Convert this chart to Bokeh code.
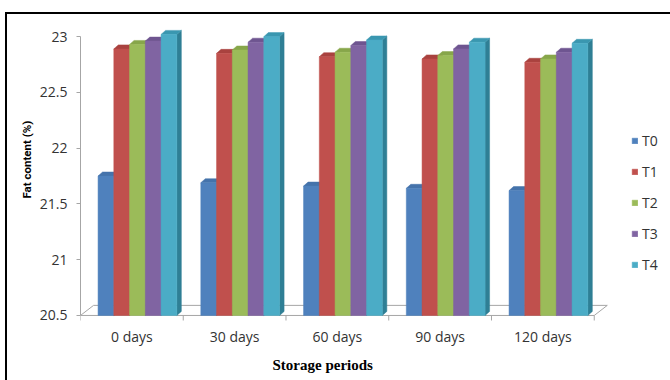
from bokeh.plotting import figure
from bokeh.models import (Range1d, FixedTicker, CustomJSTickFormatter, Legend, LegendItem,
                          ColumnDataSource, Title)
from bokeh.embed import file_html
from bokeh.resources import INLINE

# Fat content (%) of the samples over the storage period
periods = ["0 days", "30 days", "60 days", "90 days", "120 days"]
treatments = ["T0", "T1", "T2", "T3", "T4"]
t0 = [21.75, 21.69, 21.66, 21.64, 21.62]
t1 = [22.89, 22.85, 22.82, 22.80, 22.77]
t2 = [22.93, 22.88, 22.86, 22.83, 22.80]
t3 = [22.96, 22.95, 22.92, 22.89, 22.86]
t4 = [23.02, 23.00, 22.97, 22.95, 22.94]
y_ticks = [20.5, 21, 21.5, 22, 22.5, 23]

series = [t0, t1, t2, t3, t4]
front_colors = ["#4F81BD", "#C0504D", "#9BBB59", "#8064A2", "#4BACC6"]
side_colors = ["#37608F", "#8E3533", "#6F8A3C", "#5C4878", "#2F7F95"]
top_colors = ["#4573AB", "#A9423F", "#87A64A", "#6E5590", "#3A97B0"]

BASE = 20.5
PX_X = 102.4   # pixels per category
PX_Y = 110.8   # pixels per value unit

p = figure(width=663, height=366,
           x_range=Range1d(0, 590 / PX_X),
           y_range=Range1d(BASE - 7 / PX_Y, 23 + 22 / PX_Y),
           min_border_left=73, min_border_right=0, min_border_top=0, min_border_bottom=60,
           output_backend="svg", toolbar_location=None)
# black frame around the chart area (only the top and left edges are visible)
p.styles = {"margin-top": "12px", "margin-left": "5px",
            "border-top": "2px solid black", "border-left": "2px solid black",
            "box-sizing": "content-box"}
p.outline_line_color = None
p.xgrid.visible = False
p.ygrid.visible = False
p.background_fill_color = "white"
p.border_fill_color = "white"

TICK_FONT = "Open Sans"

# value axis
p.yaxis.bounds = (20.5, 23)
p.yaxis.ticker = FixedTicker(ticks=y_ticks)
p.yaxis.formatter = CustomJSTickFormatter(code="return tick.toString();")
p.yaxis.axis_line_color = "#A6A6A6"
p.yaxis.major_tick_line_color = "#A6A6A6"
p.yaxis.major_tick_out = 4
p.yaxis.major_tick_in = 0
p.yaxis.minor_tick_line_color = None
p.yaxis.major_label_standoff = 9
p.yaxis.major_label_text_font = TICK_FONT
p.yaxis.major_label_text_font_size = "14px"
p.yaxis.major_label_text_color = "#333333"

# category axis (labels at category centres)
p.xaxis.ticker = FixedTicker(ticks=[i + 0.5 for i in range(len(periods))])
p.xaxis.formatter = CustomJSTickFormatter(args=dict(labels=periods),
                                          code="return labels[Math.floor(tick)];")
p.xaxis.axis_line_color = None
p.xaxis.major_tick_line_color = None
p.xaxis.major_tick_out = 0
p.xaxis.major_tick_in = 0
p.xaxis.minor_tick_line_color = None
p.xaxis.major_label_standoff = 4
p.xaxis.major_label_text_font = TICK_FONT
p.xaxis.major_label_text_font_size = "14px"
p.xaxis.major_label_text_color = "#333333"

# axis titles
p.add_layout(Title(text="Storage periods", align="left", offset=192, standoff=13,
                   text_font="Liberation Serif", text_font_style="bold",
                   text_font_size="15px", text_color="black"), "below")
p.add_layout(Title(text="Fat content (%)", align="left", offset=124, standoff=6,
                   text_font="Roboto", text_font_style="bold",
                   text_font_size="11.5px", text_color="black"), "left")

# 3-D floor
fdx, fdy = 13 / PX_X, 10 / PX_Y
n = len(periods)
p.patch([0, n, n + fdx, fdx], [BASE, BASE, BASE + fdy, BASE + fdy],
        fill_color="white", line_color="#A6A6A6", line_width=1)
# category separators under the floor
p.segment(x0=list(range(n + 1)), y0=[BASE] * (n + 1),
          x1=list(range(n + 1)), y1=[BASE - 5 / PX_Y] * (n + 1),
          line_color="#A6A6A6", line_width=1)

# 3-D columns
bar_w = 15.7 / PX_X
gap_left = 17.5 / PX_X
ddx, ddy = 4.5 / PX_X, 4 / PX_Y
legend_items = []
for j, (vals, name) in enumerate(zip(series, treatments)):
    x0 = [i + gap_left + j * bar_w for i in range(n)]
    x1 = [a + bar_w for a in x0]
    side_xs = [[b, b + ddx, b + ddx, b] for b in x1]
    side_ys = [[BASE, BASE + ddy, v + ddy, v] for v in vals]
    top_xs = [[a, a + ddx, b + ddx, b] for a, b in zip(x0, x1)]
    top_ys = [[v, v + ddy, v + ddy, v] for v in vals]
    p.patches(side_xs, side_ys, fill_color=side_colors[j], line_color=side_colors[j], line_width=0.5)
    p.patches(top_xs, top_ys, fill_color=top_colors[j], line_color=top_colors[j], line_width=0.5)
    src = ColumnDataSource(dict(x=[(a + b) / 2 for a, b in zip(x0, x1)], top=vals))
    r = p.vbar(x="x", top="top", bottom=BASE, width=bar_w, source=src,
               fill_color=front_colors[j], line_color=front_colors[j], line_width=0.5)
    legend_items.append(LegendItem(label=name, renderers=[r]))

legend = Legend(items=legend_items, location=(551, 48), orientation="vertical",
                glyph_width=7, glyph_height=7, label_height=20, spacing=11,
                padding=0, margin=0, label_standoff=4,
                label_text_font=TICK_FONT, label_text_font_size="14px",
                label_text_color="#333333",
                border_line_color=None, background_fill_alpha=0)
p.add_layout(legend)

open("out.html", "w").write(file_html(p, INLINE))
